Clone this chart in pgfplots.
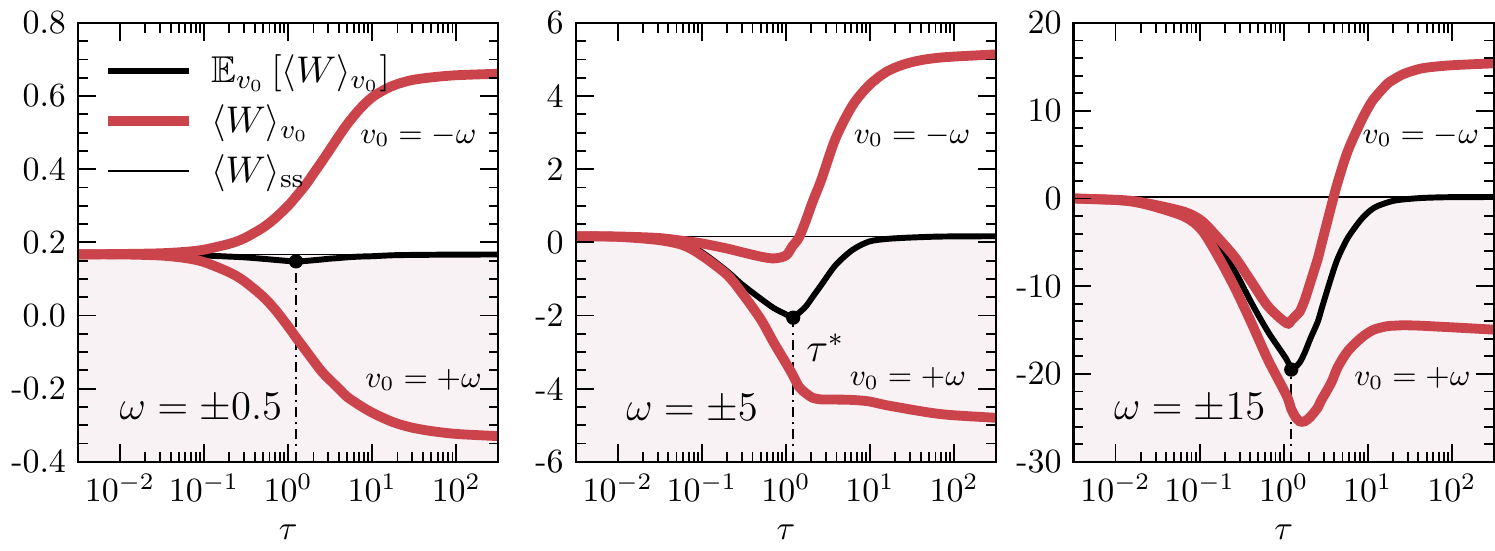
\documentclass[border=0pt]{standalone}
\usepackage{amssymb}
\usepackage{pgfplots}
\pgfplotsset{compat=1.18}
\usepackage{pgfplotstable}

\definecolor{wred}{RGB}{204,68,75}
\definecolor{wfill}{RGB}{249,242,245}

% tau  <W>_{v0=-w}  <W>_{v0=+w}  E[<W>]
\pgfplotstableread{
tau up lo mean
0.0031623 0.167 0.167 0.1667
0.01 0.168 0.167 0.1665
0.03 0.170 0.164 0.166
0.06 0.174 0.157 0.165
0.1 0.180 0.146 0.164
0.2 0.196 0.118 0.161
0.3 0.211 0.094 0.159
0.5 0.240 0.052 0.155
0.7 0.266 0.016 0.152
1.0 0.300 -0.030 0.149
1.24 0.325 -0.060 0.148
1.6 0.356 -0.094 0.149
2.0 0.388 -0.124 0.151
2.5 0.420 -0.153 0.153
3.0 0.447 -0.172 0.155
4.0 0.490 -0.200 0.157
5.0 0.522 -0.222 0.159
7.0 0.563 -0.245 0.161
10 0.597 -0.266 0.162
15 0.621 -0.285 0.164
20 0.633 -0.296 0.165
30 0.644 -0.307 0.1655
50 0.651 -0.316 0.166
100 0.657 -0.324 0.1665
316.23 0.661 -0.330 0.1667
}\panelA

\pgfplotstableread{
tau up lo mean
0.0031623 0.167 0.167 0.167
0.01 0.160 0.150 0.160
0.03 0.120 0.065 0.090
0.06 0.040 -0.080 -0.020
0.1 -0.030 -0.360 -0.270
0.2 -0.170 -0.890 -0.790
0.3 -0.270 -1.385 -1.150
0.5 -0.390 -2.100 -1.540
0.72 -0.440 -2.750 -1.800
1.0 -0.360 -3.300 -1.970
1.2 -0.100 -3.620 -2.060
1.43 0.130 -3.950 -1.930
1.73 0.600 -4.130 -1.750
2.07 1.100 -4.250 -1.500
2.48 1.550 -4.290 -1.250
2.72 1.800 -4.300 -1.120
3.91 2.850 -4.300 -0.620
6.17 3.740 -4.310 -0.210
9.70 4.290 -4.350 0.020
15.31 4.650 -4.450 0.090
23.99 4.850 -4.530 0.120
38.02 4.970 -4.610 0.140
60.26 5.040 -4.680 0.155
100 5.080 -4.730 0.162
316.23 5.140 -4.800 0.167
}\panelB

\pgfplotstableread{
tau up lo mean
0.0031623 0.00 0.00 0.00
0.01 -0.15 -0.18 -0.16
0.01718 -0.32 -0.42 -0.37
0.0302 -0.75 -0.98 -0.86
0.0671 -1.55 -2.10 -1.80
0.1059 -2.55 -3.60 -3.05
0.166 -4.50 -6.60 -5.50
0.263 -6.70 -10.20 -8.30
0.414 -9.50 -14.20 -11.90
0.652 -12.30 -18.40 -15.20
1.076 -14.20 -22.40 -18.30
1.23 -13.90 -24.00 -19.50
1.38 -13.40 -24.90 -19.20
1.549 -12.90 -25.40 -18.70
1.774 -11.60 -25.40 -17.60
2.07 -9.60 -24.90 -16.00
2.553 -6.80 -23.80 -14.00
2.799 -5.30 -23.00 -12.70
3.673 -0.90 -21.00 -9.00
4.406 1.90 -19.20 -6.80
5.781 5.40 -17.40 -4.50
8.318 8.80 -15.90 -2.40
10.94 10.90 -15.10 -1.30
13.18 11.90 -14.80 -0.85
17.22 13.10 -14.55 -0.45
20.65 13.60 -14.50 -0.25
26.92 14.20 -14.45 -0.10
42.66 14.80 -14.50 0.05
67.61 15.05 -14.60 0.12
107.2 15.20 -14.70 0.15
316.23 15.40 -14.95 0.167
}\panelC

\begin{document}
\begin{tikzpicture}

% omega = +-0.5
\begin{axis}[
    scale only axis, width=124pt, height=129.4pt, at={(0pt,0pt)},
    axis on top,
    xmode=log, xmin=0.0031623, xmax=316.23,
    xtick={0.01,0.1,1,10,100},
    tick align=inside,
    major tick length=5.3pt, minor tick length=2.9pt,
    tick style={line width=0.55pt, black},
    axis line style={line width=0.65pt},
    xlabel={$\tau$},
    ymin=-0.4, ymax=0.8,
    ytick={-0.4,-0.2,0,0.2,0.4,0.6,0.8},
    yticklabels={-0.4,-0.2,0.0,0.2,0.4,0.6,0.8},
    minor y tick num=3,
    legend cell align=left,
    legend image post style={xscale=1.4},
    legend style={draw=none, fill=none, at={(0.035,0.96)}, anchor=north west,
      row sep=1pt, column sep=3pt, font=\fontsize{11}{13}\selectfont},
]
\addplot[draw=none, fill=wfill, forget plot] coordinates {(0.0031623,-0.4)(316.23,-0.4)(316.23,0.1667)(0.0031623,0.1667)};
\addplot[black, line width=0.4pt, forget plot] coordinates {(0.0031623,0.1667)(316.23,0.1667)};
\addplot[black, line width=0.5pt, dash pattern=on 3pt off 1.5pt on 0.6pt off 1.5pt, forget plot] coordinates {(1.24,-0.4)(1.24,0.148)};
\addplot[black, line width=1.75pt, smooth, forget plot] table[x=tau, y=mean] {\panelA};
\addplot[wred, line width=2.9pt, smooth, forget plot] table[x=tau, y=up] {\panelA};
\addplot[wred, line width=2.9pt, smooth, forget plot] table[x=tau, y=lo] {\panelA};
\addplot[only marks, mark=*, mark size=1.9pt, black, forget plot] coordinates {(1.24,0.148)};
\addlegendimage{black, line width=1.75pt}
\addlegendentry{$\mathbb{E}_{v_0}\left[\langle W\rangle_{v_0}\right]$}
\addlegendimage{wred, line width=2.9pt}
\addlegendentry{$\langle W\rangle_{v_0}$}
\addlegendimage{black, line width=0.4pt}
\addlegendentry{$\langle W\rangle_{\mathrm{ss}}$}
\node[font=\small] at (rel axis cs:0.81,0.743) {$v_0=-\omega$};
\node[font=\small] at (rel axis cs:0.822,0.187) {$v_0=+\omega$};
\node[font=\large, anchor=west] at (rel axis cs:0.071,0.123) {$\omega=\pm0.5$};
\end{axis}

% omega = +-5
\begin{axis}[
    scale only axis, width=124pt, height=129.4pt, at={(146.8pt,0pt)},
    axis on top,
    xmode=log, xmin=0.0031623, xmax=316.23,
    xtick={0.01,0.1,1,10,100},
    tick align=inside,
    major tick length=5.3pt, minor tick length=2.9pt,
    tick style={line width=0.55pt, black},
    axis line style={line width=0.65pt},
    xlabel={$\tau$},
    ymin=-6, ymax=6,
    ytick={-6,-4,-2,0,2,4,6},
    yticklabels={-6,-4,-2,0,2,4,6},
    minor y tick num=3,
]
\addplot[draw=none, fill=wfill] coordinates {(0.0031623,-6)(316.23,-6)(316.23,0.1667)(0.0031623,0.1667)};
\addplot[black, line width=0.4pt] coordinates {(0.0031623,0.1667)(316.23,0.1667)};
\addplot[black, line width=0.5pt, dash pattern=on 3pt off 1.5pt on 0.6pt off 1.5pt] coordinates {(1.22,-6)(1.22,-2.06)};
\addplot[black, line width=1.75pt, smooth] table[x=tau, y=mean] {\panelB};
\addplot[wred, line width=2.9pt, smooth] table[x=tau, y=up] {\panelB};
\addplot[wred, line width=2.9pt, smooth] table[x=tau, y=lo] {\panelB};
\addplot[only marks, mark=*, mark size=1.9pt, black] coordinates {(1.22,-2.06)};
\node[font=\small] at (rel axis cs:0.80,0.743) {$v_0=-\omega$};
\node[font=\small] at (rel axis cs:0.79,0.19) {$v_0=+\omega$};
\node[font=\large, anchor=west] at (rel axis cs:0.092,0.121) {$\omega=\pm5$};
\node[font=\large, anchor=west] at (rel axis cs:0.52,0.26) {$\tau^*$};
\end{axis}

% omega = +-15
\begin{axis}[
    scale only axis, width=124pt, height=129.4pt, at={(293.6pt,0pt)},
    axis on top,
    xmode=log, xmin=0.0031623, xmax=316.23,
    xtick={0.01,0.1,1,10,100},
    tick align=inside,
    major tick length=5.3pt, minor tick length=2.9pt,
    tick style={line width=0.55pt, black},
    axis line style={line width=0.65pt},
    xlabel={$\tau$},
    ymin=-30, ymax=20,
    ytick={-30,-20,-10,0,10,20},
    yticklabels={-30,-20,-10,0,10,20},
    minor y tick num=4,
]
\addplot[draw=none, fill=wfill] coordinates {(0.0031623,-30)(316.23,-30)(316.23,0.1667)(0.0031623,0.1667)};
\addplot[black, line width=0.4pt] coordinates {(0.0031623,0.1667)(316.23,0.1667)};
\addplot[black, line width=0.5pt, dash pattern=on 3pt off 1.5pt on 0.6pt off 1.5pt] coordinates {(1.23,-30)(1.23,-19.5)};
\addplot[black, line width=1.75pt, smooth] table[x=tau, y=mean] {\panelC};
\addplot[wred, line width=2.9pt, smooth] table[x=tau, y=up] {\panelC};
\addplot[wred, line width=2.9pt, smooth] table[x=tau, y=lo] {\panelC};
\addplot[only marks, mark=*, mark size=1.9pt, black] coordinates {(1.23,-19.5)};
\node[font=\small] at (rel axis cs:0.826,0.743) {$v_0=-\omega$};
\node[font=\small] at (rel axis cs:0.806,0.19) {$v_0=+\omega$};
\node[font=\large, anchor=west] at (rel axis cs:0.068,0.122) {$\omega=\pm15$};
\end{axis}

\end{tikzpicture}
\end{document}
